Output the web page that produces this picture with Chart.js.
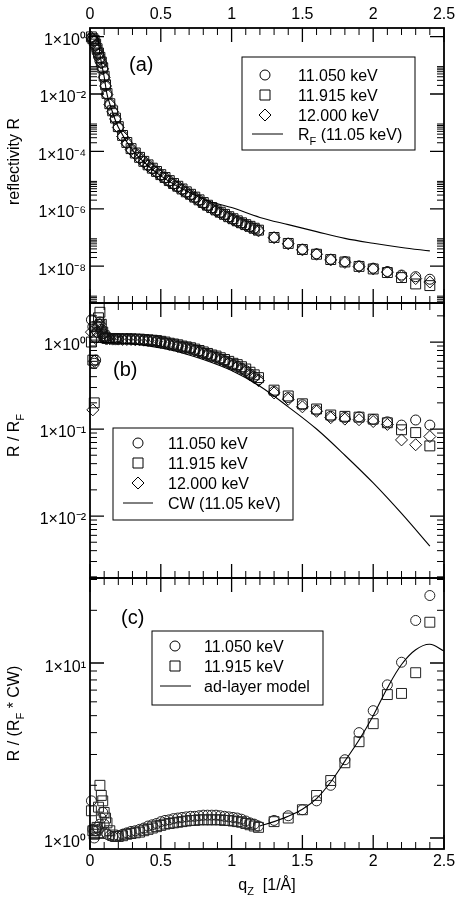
<!DOCTYPE html>
<html><head><meta charset="utf-8">
<script src="https://cdn.jsdelivr.net/npm/chart.js@4.4.1/dist/chart.umd.min.js"></script>
<style>
html,body{margin:0;padding:0;background:#fff;}
#wrap{position:relative;width:455px;height:905px;background:#fff;}
canvas{position:absolute;left:0;top:0;}
</style></head><body>
<div id="wrap">
<canvas id="ca" width="455" height="905"></canvas>
<canvas id="cb" width="455" height="905"></canvas>
<canvas id="cc" width="455" height="905"></canvas>
</div>
<script>
// ---------------- data ----------------
const qValues = [0.01,0.02,0.03,0.04,0.05,0.06,0.07,0.08,0.09,0.10,0.11,0.12,0.14,0.16,0.18,
0.20,0.23,0.26,0.29,0.32,0.35,0.38,0.41,0.44,0.47,0.50,0.53,0.56,0.59,0.62,0.65,0.68,0.71,0.74,0.77,0.80,0.83,0.86,0.89,0.92,0.95,0.98,1.01,1.04,1.07,1.10,1.13,1.16,1.19,
1.3,1.4,1.5,1.6,1.7,1.8,1.9,2.0,2.1,2.2,2.3,2.4];

// panel (a): reflectivity R
const reflE11050 = [0.89,0.83,0.71,0.5,0.35,0.25,0.18,0.126,0.079,0.04,0.02,0.01,4.5e-3,2.5e-3,1.4e-3,
7.1e-4,3.5e-4,2.0e-4,1.2e-4,8.5e-5,6.0e-5,4.4e-5,3.3e-5,2.5e-5,1.95e-5,1.5e-5,1.2e-5,9.3e-6,7.4e-6,5.9e-6,4.8e-6,3.8e-6,3.1e-6,2.5e-6,2.0e-6,1.6e-6,1.3e-6,1.07e-6,8.9e-7,7.4e-7,6.3e-7,5.2e-7,4.4e-7,3.7e-7,3.2e-7,2.75e-7,2.4e-7,2.1e-7,1.8e-7,
1.02e-7,6.3e-8,3.9e-8,2.7e-8,1.74e-8,1.45e-8,1.02e-8,8.5e-9,6.5e-9,4.9e-9,4.3e-9,3.5e-9];
const reflE11915 = [0.98,0.85,0.74,0.55,0.38,0.27,0.19,0.13,0.082,0.042,0.021,0.0105,4.6e-3,2.6e-3,1.45e-3,
7.3e-4,3.6e-4,2.05e-4,1.25e-4,8.8e-5,6.2e-5,4.5e-5,3.4e-5,2.6e-5,2.0e-5,1.55e-5,1.23e-5,9.6e-6,7.6e-6,6.1e-6,4.9e-6,3.9e-6,3.2e-6,2.55e-6,2.05e-6,1.65e-6,1.33e-6,1.1e-6,9.1e-7,7.6e-7,6.4e-7,5.3e-7,4.5e-7,3.8e-7,3.25e-7,2.8e-7,2.45e-7,2.1e-7,1.8e-7,
1.0e-7,6.2e-8,3.8e-8,2.6e-8,1.7e-8,1.4e-8,9.8e-9,8.0e-9,6.0e-9,4.0e-9,2.4e-9,2.1e-9];
const reflE12000 = [0.93,0.8,0.68,0.48,0.33,0.24,0.17,0.12,0.075,0.038,0.019,9.5e-3,4.3e-3,2.4e-3,1.35e-3,
6.8e-4,3.3e-4,1.9e-4,1.15e-4,8.0e-5,5.7e-5,4.2e-5,3.1e-5,2.4e-5,1.85e-5,1.42e-5,1.13e-5,8.8e-6,7.0e-6,5.6e-6,4.5e-6,3.6e-6,2.9e-6,2.35e-6,1.9e-6,1.5e-6,1.22e-6,1.0e-6,8.4e-7,7.0e-7,5.9e-7,4.9e-7,4.1e-7,3.5e-7,3.0e-7,2.6e-7,2.25e-7,1.95e-7,1.7e-7,
9.8e-8,6.0e-8,3.7e-8,2.6e-8,1.65e-8,1.35e-8,9.6e-9,8.0e-9,6.2e-9,4.5e-9,3.7e-9,2.8e-9];
const fresnelQ = [0.01,0.05,0.06,0.07,0.08,0.1,0.12,0.15,0.2,0.3,0.4,0.5,0.6,0.7,0.8,0.9,1.0,1.2,1.4,1.6,1.8,2.0,2.2,2.4];
const fresnelR = [1,1,0.63,0.25,0.126,0.04,0.01,3.2e-3,7e-4,1.1e-4,3.5e-5,1.4e-5,6.8e-6,3.8e-6,2.2e-6,1.5e-6,1.1e-6,5.0e-7,2.8e-7,1.6e-7,9.3e-8,6.3e-8,4.5e-8,3.4e-8];

// panel (b): R / R_F
const ratioE11050 = [1.8,1.5,0.57,0.62,1.3,1.6,1.7,1.4,1.25,1.15,1.12,1.1,1.1,1.09,1.09,
1.08,1.08,1.08,1.08,1.07,1.07,1.06,1.05,1.04,1.02,1.0,0.98,0.95,0.93,0.9,0.88,0.86,0.84,0.81,0.78,0.75,0.72,0.69,0.67,0.64,0.61,0.58,0.55,0.53,0.5,0.47,0.43,0.4,0.37,
0.27,0.23,0.19,0.165,0.14,0.136,0.138,0.129,0.121,0.111,0.127,0.111];
const ratioE11915 = [1.0,0.62,0.2,1.2,1.5,1.9,2.2,1.6,1.3,1.18,1.12,1.1,1.1,1.1,1.09,
1.09,1.09,1.09,1.09,1.08,1.08,1.07,1.06,1.05,1.04,1.02,1.0,0.97,0.95,0.93,0.9,0.88,0.86,0.83,0.8,0.77,0.74,0.71,0.69,0.66,0.63,0.6,0.57,0.55,0.52,0.49,0.45,0.42,0.39,
0.28,0.24,0.195,0.17,0.145,0.14,0.137,0.13,0.118,0.098,0.091,0.064];
const ratioE12000 = [1.3,0.166,0.6,1.1,1.3,1.5,1.6,1.35,1.2,1.12,1.1,1.09,1.09,1.08,1.08,
1.08,1.07,1.07,1.07,1.06,1.06,1.05,1.04,1.03,1.01,0.99,0.97,0.94,0.92,0.89,0.87,0.85,0.83,0.8,0.77,0.74,0.71,0.68,0.66,0.63,0.6,0.57,0.54,0.52,0.49,0.46,0.42,0.39,0.36,
0.26,0.22,0.18,0.16,0.135,0.13,0.128,0.122,0.113,0.075,0.066,0.082];
const cwQ = [0,0.2,0.4,0.6,0.8,1.0,1.2,1.4,1.6,1.8,2.0,2.2,2.4];
const cwValues = [1,0.98,0.91,0.79,0.63,0.47,0.31,0.18,0.1,0.05,0.024,0.0107,0.0045];

// panel (c): R / (R_F * CW)
const adjE11050 = [1.63,1.12,1.0,1.1,1.15,1.12,1.2,1.3,1.4,1.2,1.08,1.05,1.03,1.02,1.02,
1.03,1.05,1.07,1.09,1.1,1.12,1.14,1.17,1.19,1.21,1.24,1.26,1.27,1.29,1.3,1.31,1.32,1.33,1.33,1.34,1.35,1.35,1.35,1.35,1.34,1.33,1.32,1.31,1.3,1.28,1.25,1.22,1.2,1.17,
1.26,1.34,1.45,1.63,2.0,2.8,4.0,5.34,7.5,10.1,17.5,24.3];
const adjE11915 = [1.43,1.1,1.05,1.1,1.15,1.5,2.0,1.75,1.63,1.4,1.3,1.22,1.1,1.04,1.02,
1.02,1.03,1.05,1.06,1.07,1.08,1.1,1.12,1.14,1.16,1.18,1.2,1.21,1.22,1.23,1.24,1.25,1.26,1.26,1.27,1.27,1.27,1.27,1.27,1.27,1.26,1.26,1.25,1.24,1.23,1.21,1.19,1.17,1.15,
1.24,1.3,1.45,1.75,2.13,2.69,3.55,4.5,6.6,6.7,8.8,17.1];
const adLayerQ = [1.2,1.3,1.4,1.5,1.6,1.7,1.8,1.9,2.0,2.1,2.2,2.3,2.4,2.5];
const adLayerValues = [1.17,1.24,1.33,1.46,1.68,2.09,2.75,3.63,5.0,7.2,9.8,11.9,12.8,11.7];

// ticks
const xTickValues = [0,0.5,1,1.5,2,2.5];
const xTickLabels = ['0','0.5','1','1.5','2','2.5'];
const xMinorTicks = [0.1,0.2,0.3,0.4,0.6,0.7,0.8,0.9,1.1,1.2,1.3,1.4,1.6,1.7,1.8,1.9,2.1,2.2,2.3,2.4];
const reflTickValues = [1,1e-2,1e-4,1e-6,1e-8];
const reflTickLabels = ['1×10⁰','1×10⁻²','1×10⁻⁴','1×10⁻⁶','1×10⁻⁸'];
const ratioTickValues = [1,1e-1,1e-2];
const ratioTickLabels = ['1×10⁰','1×10⁻¹','1×10⁻²'];
const adjTickValues = [1,10];
const adjTickLabels = ['1×10⁰','1×10¹'];

// ---------------- helpers ----------------
const FAM = "'Liberation Sans', Arial, Helvetica, sans-serif";
Chart.defaults.font.family = FAM;
Chart.defaults.color = '#000';

function pts(xs, ys){ return xs.map((x,i)=>({x:x, y:ys[i]})); }
function minorTicks(exps, lo, hi){
  const out=[];
  exps.forEach(e=>{ for(let k=2;k<=9;k++){ const v=k*Math.pow(10,e); if(v>lo && v<hi) out.push(v);} });
  return out;
}
function drawRich(ctx, parts, x, y, size, align){
  const sizes = parts.map(p => p[1] ? Math.round(size*0.68) : size);
  let w=0;
  parts.forEach((p,i)=>{ ctx.font = sizes[i]+'px '+FAM; w += ctx.measureText(p[0]).width; });
  let cx = align==='center' ? x-w/2 : (align==='right' ? x-w : x);
  ctx.textAlign='left'; ctx.textBaseline='alphabetic';
  parts.forEach((p,i)=>{
    ctx.font = sizes[i]+'px '+FAM;
    const dy = p[1]===-1 ? size*0.32 : (p[1]===1 ? -size*0.45 : 0);
    ctx.fillText(p[0], cx, y+dy);
    cx += ctx.measureText(p[0]).width;
  });
}
function drawMarker(ctx, style, x, y){
  ctx.beginPath();
  if(style==='circle') ctx.arc(x,y,5,0,2*Math.PI);
  else if(style==='rect') ctx.rect(x-5,y-5,10,10);
  else if(style==='rectRot'){ ctx.moveTo(x,y-6); ctx.lineTo(x+6,y); ctx.lineTo(x,y+6); ctx.lineTo(x-6,y); ctx.closePath(); }
  ctx.stroke();
}

const decorPlugin = {
  id: 'panelDecor',
  afterDraw(chart, args, o){
    const ctx = chart.ctx, a = chart.chartArea, xs = chart.scales.x, ys = chart.scales.y;
    ctx.save();
    ctx.strokeStyle='#000'; ctx.fillStyle='#000';
    // ticks (inward)
    ctx.lineWidth = 1.3;
    ctx.beginPath();
    xTickValues.forEach(v=>{ const p=xs.getPixelForValue(v); ctx.moveTo(p,a.top); ctx.lineTo(p,a.top+14); ctx.moveTo(p,a.bottom); ctx.lineTo(p,a.bottom-14); });
    o.yMajor.forEach(v=>{ const p=ys.getPixelForValue(v); ctx.moveTo(a.left,p); ctx.lineTo(a.left+14,p); ctx.moveTo(a.right,p); ctx.lineTo(a.right-14,p); });
    ctx.stroke();
    ctx.lineWidth = 1;
    ctx.beginPath();
    xMinorTicks.forEach(v=>{ const p=xs.getPixelForValue(v); ctx.moveTo(p,a.top); ctx.lineTo(p,a.top+7); ctx.moveTo(p,a.bottom); ctx.lineTo(p,a.bottom-7); });
    o.yMinor.forEach(v=>{ const p=ys.getPixelForValue(v); ctx.moveTo(a.left,p); ctx.lineTo(a.left+7,p); ctx.moveTo(a.right,p); ctx.lineTo(a.right-7,p); });
    ctx.stroke();
    // frame
    ctx.lineWidth = 1.8;
    ctx.strokeRect(a.left, a.top, a.right-a.left, a.bottom-a.top);
    // panel label
    ctx.font = '20px '+FAM; ctx.textAlign='left'; ctx.textBaseline='middle';
    ctx.fillText(o.label[0], o.label[1], o.label[2]);
    // legend
    const L = o.legend;
    ctx.lineWidth = 1;
    ctx.strokeRect(L.box[0], L.box[1], L.box[2], L.box[3]);
    L.rows.forEach((r,i)=>{
      const y = L.y[i];
      if(r.style==='line'){ ctx.beginPath(); ctx.moveTo(L.lineX[0],y); ctx.lineTo(L.lineX[1],y); ctx.stroke(); }
      else drawMarker(ctx, r.style, L.markX, y);
      drawRich(ctx, r.text, L.textX, y+5.8, 16, 'left');
    });
    // y title
    ctx.save();
    ctx.translate(o.yTitle.x, (a.top+a.bottom)/2 + o.yTitle.dy);
    ctx.rotate(-Math.PI/2);
    drawRich(ctx, o.yTitle.parts, 0, 0, 16, 'center');
    ctx.restore();
    // x title
    if(o.xTitle){ drawRich(ctx, o.xTitle.parts, (a.left+a.right)/2, o.xTitle.y, 16, 'center'); }
    ctx.restore();
  }
};

function pointSet(label, xs, ys, style, radius, color){
  return { label, data: pts(xs, ys), showLine:false, pointStyle: style, pointRadius: radius,
           pointBorderColor: color, pointBackgroundColor:'rgba(0,0,0,0)', pointBorderWidth:1, clip:false };
}
function lineSet(label, xs, ys){
  return { label, data: pts(xs, ys), showLine:true, pointRadius:0, borderColor:'#000', borderWidth:1.1, fill:false, tension:0.35, clip:true };
}

function makeChart(id, cfg){
  return new Chart(document.getElementById(id), {
    type:'scatter',
    data:{ datasets: cfg.datasets },
    options:{
      responsive:false, animation:false, devicePixelRatio:1,
      layout:{ padding: cfg.padding },
      plugins:{ legend:{display:false}, tooltip:{enabled:false}, panelDecor: cfg.decor },
      scales:{
        x:{ type:'linear', min:0, max:2.5, position: cfg.xPos, display: cfg.xShow,
            grid:{display:false, drawTicks:false}, border:{display:false},
            afterBuildTicks: s => { s.ticks = xTickValues.map(v=>({value:v})); },
            ticks:{ padding: cfg.xPad, font:{size:16}, color:'#000', maxRotation:0, autoSkip:false,
                    callback: v => xTickLabels[xTickValues.indexOf(v)] },
            afterFit: s => { s.height = cfg.xHeight; s.paddingLeft = 0; s.paddingRight = 0; } },
        y:{ type:'logarithmic', min: cfg.yMin, max: cfg.yMax,
            grid:{display:false, drawTicks:false}, border:{display:false},
            afterBuildTicks: s => { s.ticks = cfg.yTicks.map(v=>({value:v})); },
            ticks:{ padding:4, labelOffset: cfg.yLabelOffset, font:{size:16}, color:'#000', autoSkip:false,
                    callback: v => cfg.yLabels[cfg.yTicks.indexOf(v)] },
            afterFit: s => { s.width = 90; s.paddingTop = 0; s.paddingBottom = 0; } }
      }
    },
    plugins:[decorPlugin]
  });
}

// ---------------- panel (a) ----------------
makeChart('ca', {
  padding:{left:0, right:11, top:0, bottom:602},
  xPos:'top', xShow:true, xPad:4, xHeight:28,
  yMin:5.2e-10, yMax:2.0, yTicks:reflTickValues, yLabels:reflTickLabels, yLabelOffset:4,
  datasets:[
    lineSet('R_F (11.05 keV)', fresnelQ, fresnelR),
    pointSet('11.050 keV', qValues, reflE11050, 'circle', 5, '#111'),
    pointSet('11.915 keV', qValues, reflE11915, 'rect', 7, '#111'),
    pointSet('12.000 keV', qValues, reflE12000, 'rectRot', 6, '#111')
  ],
  decor:{
    yMajor: reflTickValues, yMinor: minorTicks([0,-2,-4,-6,-8,-10], 5.2e-10, 2.0),
    label:['(a)',129,65],
    legend:{ box:[242,57,173,93], y:[75,95,115,134], markX:265, textX:298, lineX:[252,283],
      rows:[ {style:'circle', text:[['11.050 keV',0]]}, {style:'rect', text:[['11.915 keV',0]]},
             {style:'rectRot', text:[['12.000 keV',0]]}, {style:'line', text:[['R',0],['F',-1],[' (11.05 keV)',0]]} ] },
    yTitle:{ x:19, dy:-4, parts:[['reflectivity R',0]] }
  }
});

// ---------------- panel (b) ----------------
makeChart('cb', {
  padding:{left:0, right:11, top:303, bottom:327},
  xPos:'bottom', xShow:false, xPad:4, xHeight:0,
  yMin:1.94e-3, yMax:2.81, yTicks:ratioTickValues, yLabels:ratioTickLabels, yLabelOffset:4,
  datasets:[
    lineSet('CW (11.05 keV)', cwQ, cwValues),
    pointSet('11.050 keV', qValues, ratioE11050, 'circle', 5, '#111'),
    pointSet('11.915 keV', qValues, ratioE11915, 'rect', 7, '#111'),
    pointSet('12.000 keV', qValues, ratioE12000, 'rectRot', 6, '#111')
  ],
  decor:{
    yMajor: ratioTickValues, yMinor: minorTicks([0,-1,-2,-3], 1.94e-3, 2.81),
    label:['(b)',113,370],
    legend:{ box:[113,428,180,92], y:[443,463,483,503], markX:138, textX:168, lineX:[123,153],
      rows:[ {style:'circle', text:[['11.050 keV',0]]}, {style:'rect', text:[['11.915 keV',0]]},
             {style:'rectRot', text:[['12.000 keV',0]]}, {style:'line', text:[['CW (11.05 keV)',0]]} ] },
    yTitle:{ x:19, dy:-5, parts:[['R / R',0],['F',-1]] }
  }
});

// ---------------- panel (c) ----------------
makeChart('cc', {
  padding:{left:0, right:11, top:578, bottom:0},
  xPos:'bottom', xShow:true, xPad:3, xHeight:56,
  yMin:0.865, yMax:30.6, yTicks:adjTickValues, yLabels:adjTickLabels, yLabelOffset:5,
  datasets:[
    lineSet('ad-layer model', adLayerQ, adLayerValues),
    pointSet('11.050 keV', qValues, adjE11050, 'circle', 5, '#222'),
    pointSet('11.915 keV', qValues, adjE11915, 'rect', 7, '#222')
  ],
  decor:{
    yMajor: adjTickValues, yMinor: minorTicks([0,1], 0.865, 30.6),
    label:['(c)',121,618],
    legend:{ box:[152,631,171,74], y:[646,666,686], markX:175, textX:204, lineX:[160,191],
      rows:[ {style:'circle', text:[['11.050 keV',0]]}, {style:'rect', text:[['11.915 keV',0]]},
             {style:'line', text:[['ad-layer model',0]]} ] },
    yTitle:{ x:19, dy:0, parts:[['R / (R',0],['F',-1],[' * CW)',0]] },
    xTitle:{ y:890, parts:[['q',0],['Z',-1],['  [1/Å]',0]] }
  }
});
</script>
</body></html>
